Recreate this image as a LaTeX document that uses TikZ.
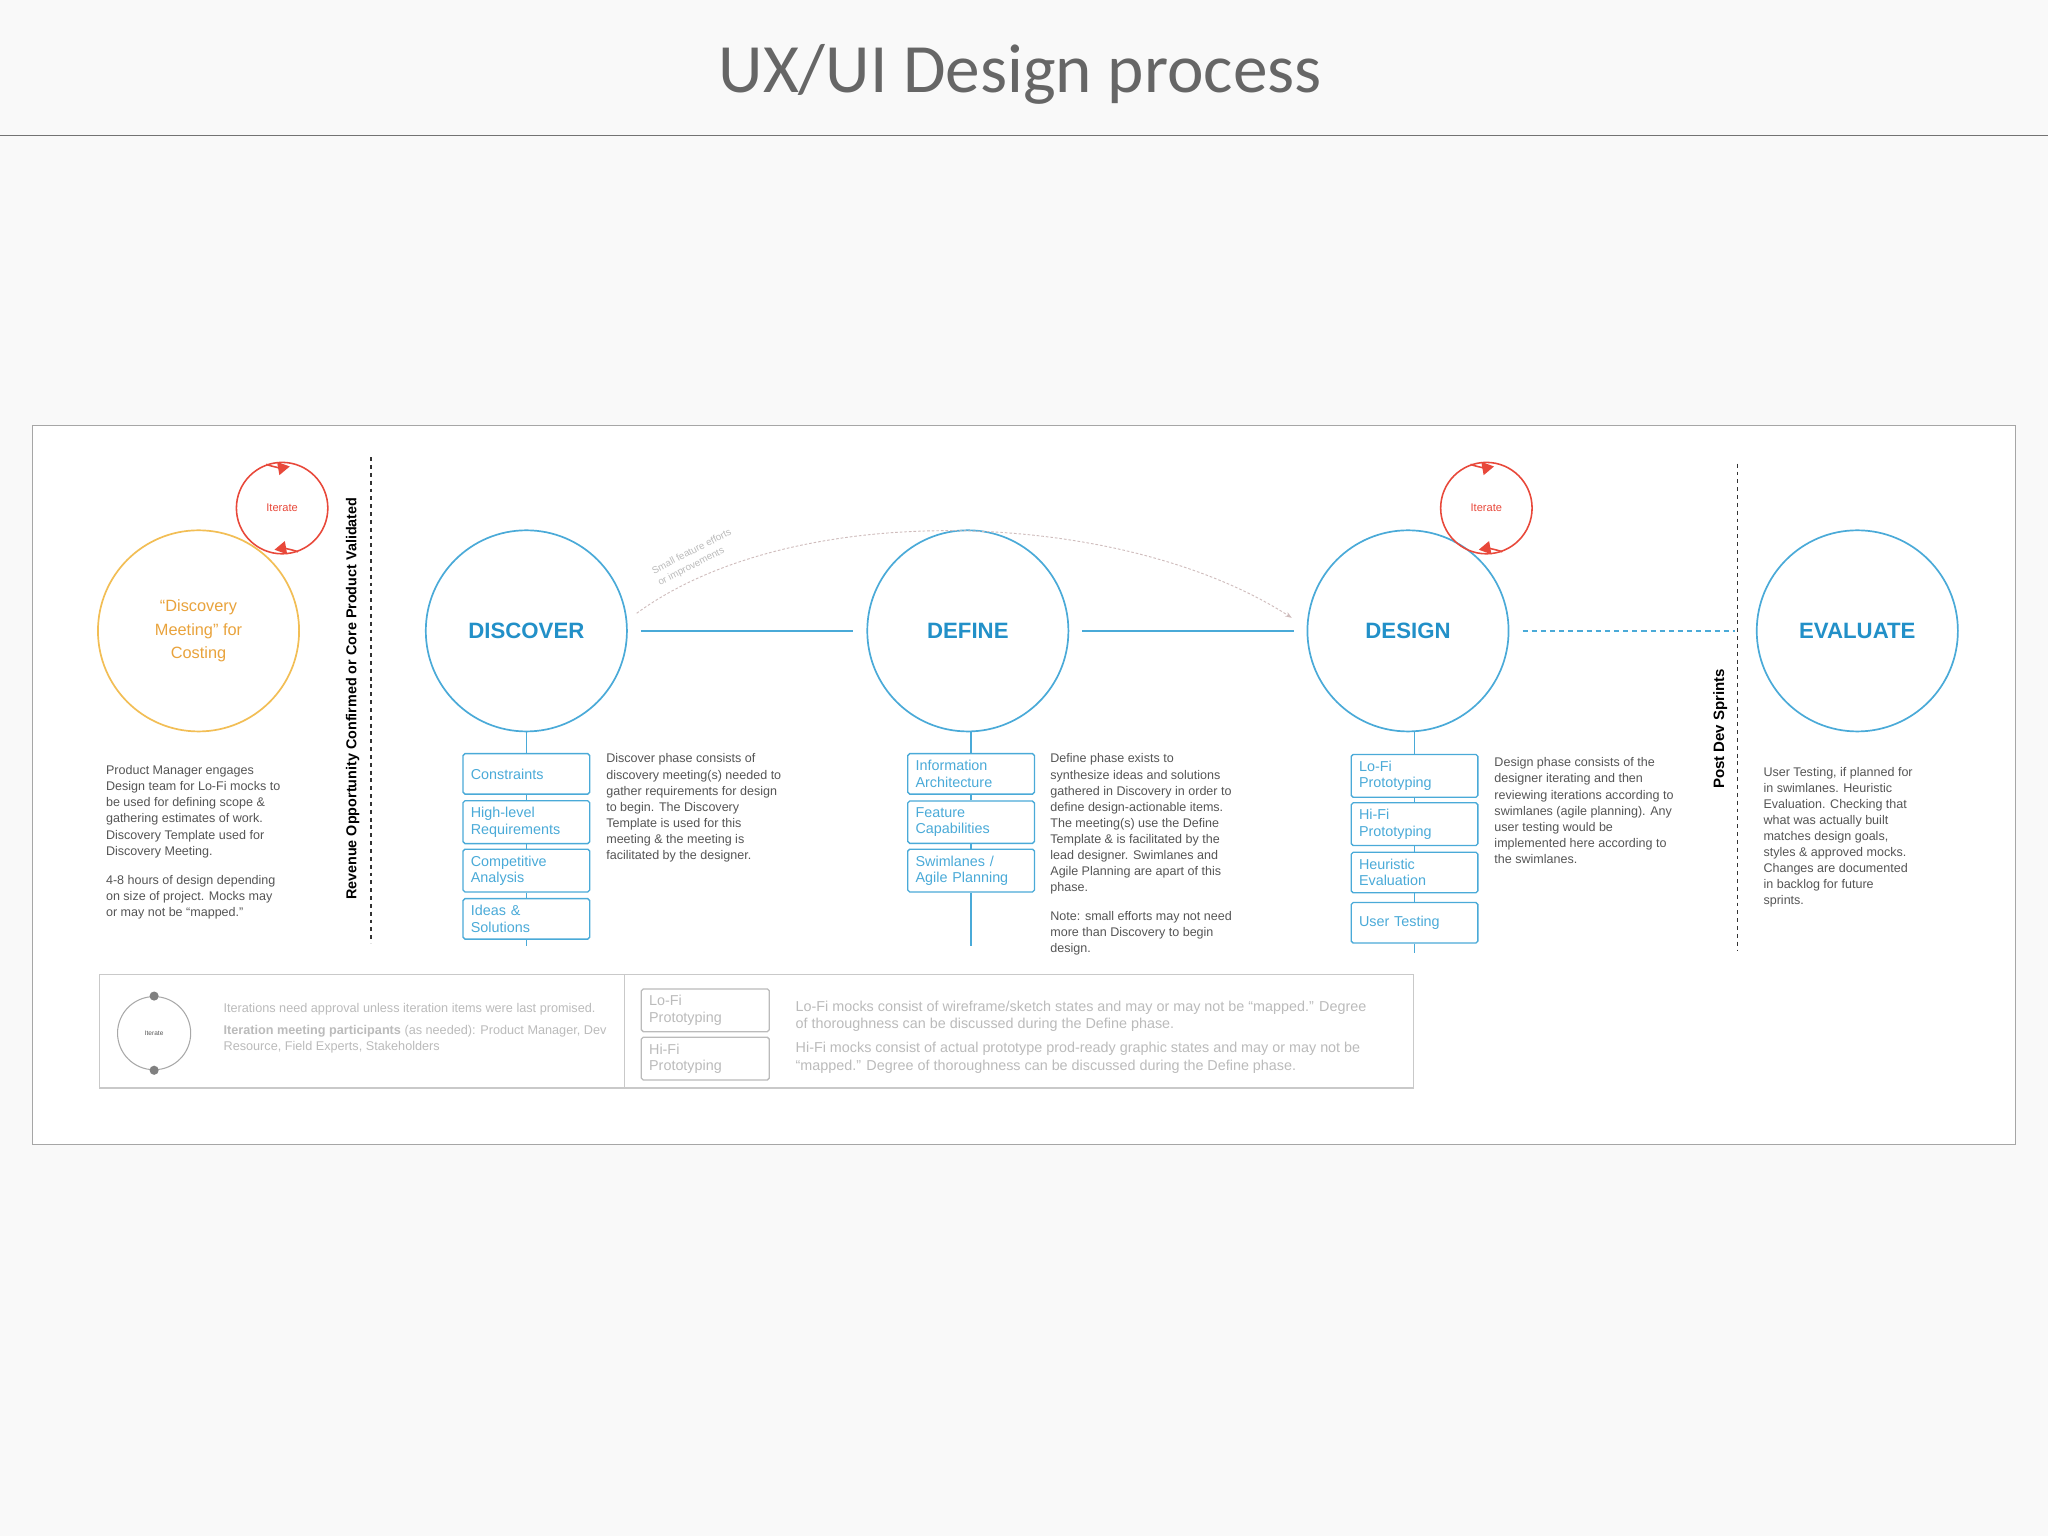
\documentclass[tikz,border=0pt]{standalone}
\usepackage{fontspec}
\setmainfont{Liberation Sans}
\newfontfamily\titlefont{Carlito}
\usetikzlibrary{arrows.meta}
\definecolor{bg}{HTML}{F9F9F9}
\definecolor{cblue}{HTML}{4AAAD8}
\definecolor{tblue}{HTML}{2290C8}
\definecolor{corange}{HTML}{F2BE55}
\definecolor{torange}{HTML}{E9A33C}
\definecolor{cred}{HTML}{E8483A}
\definecolor{txt}{HTML}{555555}
\definecolor{lgray}{HTML}{BBBBBB}
\tikzset{
 phase/.style={circle,draw=cblue,line width=1.3pt,minimum size=154pt,inner sep=0pt,text=tblue,font=\fontsize{17}{20}\selectfont\bfseries},
 iter/.style={circle,draw=cred,line width=1.2pt,minimum size=70pt,inner sep=0pt,text=cred,font=\fontsize{8.5}{9}\selectfont},
 sbox/.style={draw=cblue,line width=1pt,rounded corners=1.5pt,minimum width=97pt,minimum height=31pt,text width=85pt,align=left,inner sep=5pt,text=cblue,font=\fontsize{11}{12.5}\selectfont},
 gbox/.style={draw=lgray,line width=1pt,rounded corners=1.5pt,minimum width=98pt,minimum height=31pt,text width=86pt,align=left,inner sep=5pt,text=lgray,font=\fontsize{11}{12.5}\selectfont},
 desc/.style={anchor=north west,align=left,inner sep=0pt,text=txt,font=\fontsize{9.6}{12.3}\selectfont},
 ldesc/.style={anchor=north west,align=left,inner sep=0pt,text=lgray,font=\fontsize{11}{13.5}\selectfont},
 vlab/.style={rotate=90,text=black},
 conn/.style={cblue,line width=1pt},
 itarrow/.style={cred,line width=1.2pt,-{Triangle[length=9pt,width=10pt]}},
}
\begin{document}
\begin{tikzpicture}[x=1pt,y=-1pt]
\useasboundingbox (0,0) rectangle (1568,1176);
\fill[bg] (0,0) rectangle (1568,1176);
\node[font=\titlefont\fontsize{53}{56}\selectfont,text=black!60] (title) at (781,57) {UX/UI Design process};
\draw[black!55,line width=0.8pt] (0,104) -- (1568,104);
\draw[black!35,fill=white,line width=0.8pt] (25,326) rectangle (1543,876);

% discovery meeting
\node[circle,draw=corange,line width=1.3pt,minimum size=154pt,inner sep=0pt,text=torange,align=center,font=\fontsize{12.5}{18}\selectfont] (dm) at (152,483) {“Discovery\\Meeting” for\\Costing};
\node[iter] (it1) at (216,389) {Iterate};
\draw[itarrow] (it1.110) arc[start angle=110,end angle=80,radius=35];
\draw[itarrow] (it1.-70) arc[start angle=-70,end angle=-100,radius=35];

\coordinate (v1a) at (284,350); \coordinate (v1b) at (284,722);
\draw[black!80,line width=1pt,dash pattern=on 3pt off 3pt] (v1a) -- (v1b);
\node[vlab,font=\fontsize{11}{12}\selectfont\bfseries] (rev) at (270,535) {Revenue Opportunity Confirmed or Core Product Validated};

% phases
\node[phase] (disc) at (403,483) {DISCOVER};
\node[phase] (def) at (741,483) {DEFINE};
\node[phase] (des) at (1078,483) {DESIGN};
\node[phase] (eval) at (1422,483) {EVALUATE};
\node[iter] (it2) at (1138,389) {Iterate};
\draw[itarrow] (it2.110) arc[start angle=110,end angle=80,radius=35];
\draw[itarrow] (it2.-70) arc[start angle=-70,end angle=-100,radius=35];

\draw[conn] ([xshift=10pt]disc.east) -- ([xshift=-10pt]def.west);
\draw[conn] ([xshift=10pt]def.east) -- ([xshift=-10pt]des.west);
\draw[conn,dash pattern=on 4pt off 3pt] ([xshift=10pt]des.east) -- (1328,483);

\coordinate (v2a) at (1330,355); \coordinate (v2b) at (1330,728);
\draw[black!80,line width=1pt,dash pattern=on 3pt off 3pt] (v2a) -- (v2b);
\node[vlab,font=\fontsize{11.5}{12}\selectfont\bfseries] (pds) at (1317,558) {Post Dev Sprints};

% small feature arc
\draw[lgray!70!pink,line width=0.7pt,dash pattern=on 2pt off 1.5pt,-{Stealth[length=5pt]}] ([xshift=8pt]disc.10) .. controls (610,380) and (860,390) .. (989,473);
\node[rotate=27,text=lgray,align=left,font=\fontsize{7.5}{10}\selectfont] (sfe) at (532,427) {Small feature efforts\\or improvements};

% discover boxes
\node[sbox] (c1) at (403,592.5) {Constraints};
\node[sbox] (c2) at (403,629.5) {High-level\\Requirements};
\node[sbox] (c3) at (403,666.5) {Competitive\\Analysis};
\node[sbox] (c4) at (403,703.5) {Ideas \&\\Solutions};
\coordinate (e1) at (403,724);
\draw[conn] (disc.south) -- (c1.north) (c1.south)--(c2.north) (c2.south)--(c3.north) (c3.south)--(c4.north) (c4.south)--(e1);

% define boxes
\node[sbox] (d1) at (743.5,592.5) {Information\\Architecture};
\node[sbox] (d2) at (743.5,629.5) {Feature\\Capabilities};
\node[sbox] (d3) at (743.5,666.5) {Swimlanes /\\Agile Planning};
\coordinate (e2) at (743.5,724);
\draw[conn] (d1.north |- def.south) -- (d1.north) (d1.south)--(d2.north) (d2.south)--(d3.north) (d3.south)--(e2);

% design boxes
\node[sbox] (g1) at (1083,594) {Lo-Fi\\Prototyping};
\node[sbox] (g2) at (1083,631) {Hi-Fi\\Prototyping};
\node[sbox] (g3) at (1083,668) {Heuristic\\Evaluation};
\node[sbox] (g4) at (1083,706.5) {User Testing};
\coordinate (e3) at (1083,730);
\draw[conn] (g1.north |- des.south) -- (g1.north) (g1.south)--(g2.north) (g2.south)--(g3.north) (g3.south)--(g4.north) (g4.south)--(e3);

% descriptions
\node[desc] (t0) at (81,586) {Product Manager engages\\Design team for Lo-Fi mocks to\\be used for defining scope \&\\gathering estimates of work.\\Discovery Template used for\\Discovery Meeting.\\[10pt]4-8 hours of design depending\\on size of project.  Mocks may\\or may not be “mapped.”};
\node[desc] (t1) at (464,577) {Discover phase consists of\\discovery meeting(s) needed to\\gather requirements for design\\to begin.  The Discovery\\Template is used for this\\meeting \& the meeting is\\facilitated by the designer.};
\node[desc] (t2) at (804,577) {Define phase exists to\\synthesize ideas and solutions\\gathered in Discovery in order to\\define design-actionable items.\\The meeting(s) use the Define\\Template \& is facilitated by the\\lead designer.  Swimlanes and\\Agile Planning are apart of this\\phase.\\[10pt]Note: small efforts may not need\\more than Discovery to begin\\design.};
\node[desc] (t3) at (1144,580) {Design phase consists of the\\designer iterating and then\\reviewing iterations according to\\swimlanes (agile planning).  Any\\user testing would be\\implemented here according to\\the swimlanes.};
\node[desc] (t4) at (1350,587) {User Testing, if planned for\\in swimlanes. Heuristic\\Evaluation.  Checking that\\what was actually built\\matches design goals,\\styles \& approved mocks.\\Changes are documented\\in backlog for future\\sprints.};

% legend
\draw[lgray!80,line width=0.8pt] (76,746) rectangle (1082,833);
\coordinate (ldA) at (478,746); \coordinate (ldB) at (478,833);
\draw[lgray!80,line width=0.8pt] (ldA) -- (ldB);
\node[circle,draw=lgray!90!black,line width=0.8pt,minimum size=56pt,inner sep=0pt,text=txt,font=\fontsize{5}{6}\selectfont] (lit) at (118,791) {Iterate};
\fill[black!50] (lit.north) circle[radius=3.5pt];
\fill[black!50] (lit.south) circle[radius=3.5pt];
\node[ldesc,font=\fontsize{9.7}{12.5}\selectfont] (lt1) at (171,768) {Iterations need approval unless iteration items were last promised.\\[4pt]\textbf{Iteration meeting participants} (as needed): Product Manager, Dev\\Resource, Field Experts, Stakeholders};
\node[gbox] (lb1) at (540,773.5) {Lo-Fi\\Prototyping};
\node[gbox] (lb2) at (540,810.5) {Hi-Fi\\Prototyping};
\node[ldesc] (lt2) at (609,766) {Lo-Fi mocks consist of wireframe/sketch states and may or may not be “mapped.”  Degree\\of thoroughness can be discussed during the Define phase.};
\node[ldesc] (lt3) at (609,798) {Hi-Fi mocks consist of actual prototype prod-ready graphic states and may or may not be\\“mapped.”  Degree of thoroughness can be discussed during the Define phase.};
\end{tikzpicture}
\end{document}
